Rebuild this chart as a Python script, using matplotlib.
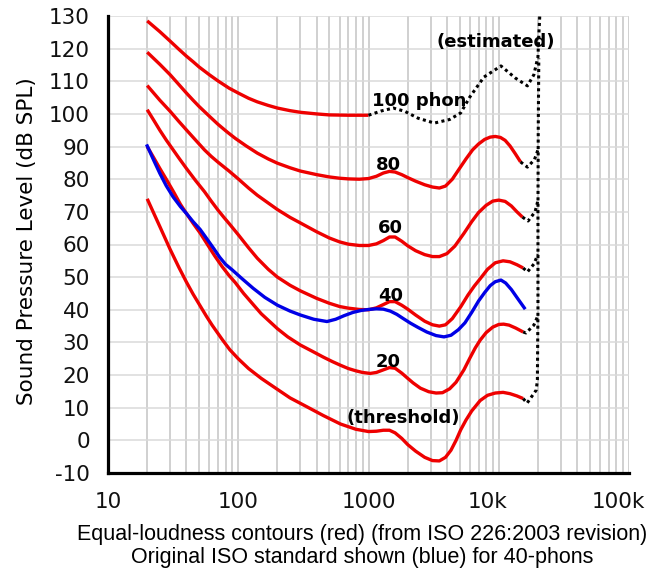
import numpy as np
import matplotlib
matplotlib.use("Agg")
import matplotlib.pyplot as plt
from matplotlib.ticker import LogLocator, NullFormatter, FixedLocator
from matplotlib.transforms import ScaledTranslation

# Equal-loudness contours (Hz, dB SPL)
f_thr = [20, 22.5, 25, 30, 35, 40, 45, 51, 57, 63, 75, 86, 100, 120, 150, 187,
         250, 336, 450, 610, 800, 1000, 1150, 1300, 1450, 1600, 1800, 2000,
         2300, 2700, 3100, 3500, 3900, 4300, 4700, 5100, 5600, 6200, 7200,
         8200, 9400, 10800, 12200, 13800, 15400]
spl_thr = [74, 69.5, 65.5, 58.5, 53, 48.5, 44.8, 41.2, 38, 35.3, 31, 27.8, 25,
           22, 19, 16.4, 13.0, 10.3, 7.6, 5.0, 3.4, 2.7, 2.8, 3.1, 3.1, 2.3,
           0.6, -1.3, -3.3, -5.2, -6.2, -6.3, -5.2, -3.0, 0, 3.2, 6.2, 9.0,
           12.2, 13.8, 14.5, 14.7, 14.3, 13.6, 12.8]

f_20 = [20, 22.5, 25, 28, 32, 36, 40, 45, 51, 58, 66, 75, 85, 95, 110, 131,
        150, 170, 200, 240, 300, 370, 450, 530, 610, 700, 800, 900, 1030,
        1150, 1300, 1450, 1600, 1800, 2000, 2200, 2500, 2900, 3300, 3700,
        4200, 4700, 5400, 6000, 6600, 7200, 8000, 9000, 10000, 10900, 12000,
        13500, 15400]
spl_20 = [90, 86.5, 83.3, 80, 76, 72.3, 69.5, 66.5, 63.5, 60, 56.5, 53.3,
          50.5, 48.3, 45, 41.5, 38.8, 36.8, 34.2, 31.7, 29.2, 27.3, 25.5,
          24.1, 23, 22, 21.3, 20.8, 20.5, 20.8, 21.6, 22.3, 22.1, 20.6, 19.0,
          17.6, 16.0, 14.9, 14.5, 14.6, 15.8, 17.8, 21.6, 25.2, 28.3, 30.7,
          33, 34.7, 35.5, 35.6, 35.3, 34.4, 33.2]

f_40 = [20, 22.5, 25, 28, 30, 35, 40, 47, 55, 62, 70, 78, 86, 100, 120, 140,
        170, 200, 250, 300, 400, 500, 600, 700, 850, 1000, 1150, 1300, 1450,
        1600, 1800, 2000, 2300, 2700, 3100, 3500, 3900, 4400, 5100, 5800,
        6500, 7200, 8200, 9400, 10800, 12200, 13800, 15400]
spl_40 = [101.3, 98, 95, 92, 90.3, 86.5, 83.3, 79.6, 76.2, 73.3, 70.5, 68.2,
          66.2, 63, 59, 55.8, 52.4, 50, 47.5, 45.8, 43.5, 42, 41, 40.5, 40.1,
          40.0, 40.6, 41.6, 42.5, 42.5, 41.4, 40.2, 38.4, 36.5, 35.4, 35.0,
          35.4, 37.3, 40.9, 44.5, 47.3, 49.5, 52.4, 54.4, 55, 54.7, 53.8,
          52.8]

f_60 = [20, 25, 30, 35, 40, 47, 55, 62, 70, 85, 100, 120, 140, 170, 200, 250,
        300, 400, 500, 600, 700, 850, 1000, 1150, 1300, 1450, 1600, 1800,
        2000, 2300, 2700, 3100, 3500, 4000, 4600, 5400, 6200, 7000, 8000,
        9000, 10000, 11200, 12500, 13800, 15200]
spl_60 = [108.7, 104.2, 100.8, 97.7, 95.1, 92, 89, 87, 85.2, 82.5, 80.1, 77.3,
          75.1, 72.7, 70.7, 68.3, 66.6, 63.9, 62.0, 60.8, 60.1, 59.7, 59.7,
          60.2, 61.2, 62.3, 62.3, 61.0, 59.6, 58.1, 56.9, 56.3, 56.3, 57.2,
          59.5, 63.4, 67.0, 69.8, 72, 73.3, 73.6, 73.2, 71.8, 70.0, 68.4]

f_80 = [20, 25, 30, 35, 40, 45, 50, 60, 70, 82, 95, 115, 140, 170, 200, 250,
        300, 400, 500, 600, 700, 850, 1000, 1150, 1300, 1450, 1600, 1800,
        2000, 2300, 2700, 3100, 3500, 3900, 4400, 5000, 5600, 6300, 7000,
        7800, 8600, 9400, 10300, 11200, 12200, 13400, 14700]
spl_80 = [118.9, 115.2, 112, 109, 106.4, 104.2, 102.3, 99.3, 96.8, 94.5, 92.5,
          90.2, 88, 86.2, 84.9, 83.5, 82.5, 81.4, 80.7, 80.3, 80.1, 80.0,
          80.2, 80.9, 81.9, 82.4, 82.2, 81.4, 80.5, 79.4, 78.3, 77.6, 77.3,
          77.9, 80.0, 83.3, 86.2, 89.0, 90.8, 92.2, 92.9, 93.1, 92.8, 91.9,
          90.2, 87.8, 85.3]

f_100 = [20, 25, 30, 35, 40, 45, 50, 60, 70, 85, 100, 120, 140, 170, 200, 250,
         300, 400, 500, 700, 1000]
spl_100 = [128.5, 125.2, 122.3, 119.8, 117.7, 116, 114.4, 112, 110.1, 107.9,
           106.4, 104.8, 103.7, 102.6, 101.8, 101, 100.5, 100, 99.7, 99.6,
           99.6]

# estimated (dotted) parts
f_100_est = [1000, 1250, 1550, 1900, 2400, 3200, 4200, 5100, 6000, 7700,
             10400, 13400, 16600, 18600, 20000, 20300, 20700]
spl_100_est = [99.6, 100.9, 101.8, 100.8, 98.7, 97.2, 98.3, 100.3, 105.2,
               111.3, 114.7, 111, 108.6, 112, 117.5, 124, 131]

f_edge = [15400, 16500, 19400, 19800, 20000, 20000, 20100, 20300]
spl_edge = [12.8, 11.4, 15.4, 18.5, 40, 70, 95, 117]

hooks = {
    20: ([15400, 16200, 18600, 19900], [33.2, 32.9, 35.3, 38]),
    40: ([15400, 16600, 18600, 20000], [52.8, 51.6, 54, 57]),
    60: ([15200, 16800, 19000, 20000], [68.4, 67.2, 70, 73.5]),
    80: ([14700, 16600, 18800, 20000], [85.3, 83.7, 86, 89]),
}

# ISO original 40-phon (blue)
f_iso40 = [20, 22.5, 25, 28, 31.6, 36, 40, 45, 51, 58, 65, 72, 80, 90, 105,
           130, 160, 200, 250, 300, 380, 480, 560, 650, 760, 880, 1000, 1150,
           1300, 1470, 1650, 1850, 2100, 2400, 2800, 3300, 3800, 4300, 4900,
           5500, 6200, 7000, 7800, 8600, 9400, 10400, 11300, 12500, 14000,
           15700]
spl_iso40 = [90.2, 85.7, 81.8, 78, 74.6, 71.6, 69.5, 67, 64.6, 61.5, 58.7,
             56.1, 53.9, 52.2, 49.8, 46.6, 43.8, 41.4, 39.6, 38.4, 37.1, 36.4,
             37.1, 38.2, 39.2, 39.8, 40.1, 40.3, 40.2, 39.6, 38.6, 37.3, 35.9,
             34.6, 33.2, 32.1, 31.7, 32.2, 33.9, 36.0, 39.2, 42.7, 45.3, 47.4,
             48.6, 49.1, 48.2, 46.2, 43.4, 40.6]

labels = ["100 phon", "(estimated)", "80", "60", "40", "20", "(threshold)"]
label_f = [2430, 9490, 1426, 1476, 1476, 1426, 1858]
label_db = [102.4, 120.6, 82.8, 63.4, 42.8, 22.4, 5.2]

xticks = [10, 100, 1000, 10000, 100000]
xticklabels = ["10", "100", "1000", "10k", "100k"]
yticks = list(range(-10, 131, 10))
yticklabels = [str(v) for v in yticks]

plt.rcParams['font.family'] = 'DejaVu Sans'

fig = plt.figure(figsize=(6.67, 5.69), dpi=100)
ax = fig.add_axes([108 / 667, 96 / 569, 521 / 667, 457 / 569])

red = '#ee0000'
lw = 2.4
dots = (0, (1, 1.1))

for f, s in [(f_thr, spl_thr), (f_20, spl_20), (f_40, spl_40),
             (f_60, spl_60), (f_80, spl_80), (f_100, spl_100)]:
    ax.plot(f, s, color=red, lw=lw, solid_capstyle='butt',
            solid_joinstyle='round', zorder=3)

ax.plot(f_iso40, spl_iso40, color='#0000e6', lw=lw, solid_joinstyle='round',
        zorder=4)

ax.plot(f_100_est, spl_100_est, color='black', lw=2.2, ls=dots, zorder=3)
ax.plot(f_edge, spl_edge, color='black', lw=2.2, ls=dots, zorder=3)
for k, (hf, hs) in hooks.items():
    ax.plot(hf, hs, color='black', lw=2.2, ls=dots, zorder=3)

for t, fx, db in zip(labels, label_f, label_db):
    ax.text(fx, db, t, ha='center', va='baseline', fontsize=13,
            fontweight='bold', color='black', zorder=5)

ax.set_xscale('log')
ax.set_xlim(10, 100000)
ax.set_ylim(-10, 130)
ax.xaxis.set_major_locator(FixedLocator(xticks))
ax.set_xticklabels(xticklabels)
ax.xaxis.set_minor_locator(LogLocator(base=10, subs=range(2, 10)))
ax.xaxis.set_minor_formatter(NullFormatter())
ax.set_yticks(yticks)
ax.set_yticklabels(yticklabels)
ax.tick_params(which='both', length=0, labelsize=15.5, colors='#111111')
ax.tick_params(axis='y', pad=13)
ax.tick_params(axis='x', pad=13.5)

off = ScaledTranslation(-11 / 100, 0, fig.dpi_scale_trans)
for lab in ax.get_xticklabels()[3:]:
    lab.set_transform(lab.get_transform() + off)

ax.grid(which='both', axis='x', color='#c4c4c4', lw=1.1, zorder=0)
ax.grid(which='major', axis='y', color='#dadada', lw=1.1, zorder=0)
ax.set_axisbelow(True)

for side in ['top', 'right']:
    ax.spines[side].set_visible(False)
for side in ['left', 'bottom']:
    ax.spines[side].set_linewidth(2.3)
    ax.spines[side].set_color('black')

fig.text(27 / 667, 1 - 241 / 569, 'Sound Pressure Level (dB SPL)', rotation=90,
         ha='center', va='center', fontsize=15.5)
fig.text(362 / 667, 1 - 540 / 569,
         'Equal-loudness contours (red) (from ISO 226:2003 revision)',
         ha='center', va='baseline', fontsize=15.5, family='Liberation Sans')
fig.text(362 / 667, 1 - 563 / 569,
         'Original ISO standard shown (blue) for 40-phons',
         ha='center', va='baseline', fontsize=15.5, family='Liberation Sans')

fig.savefig('out.png', dpi=100)
